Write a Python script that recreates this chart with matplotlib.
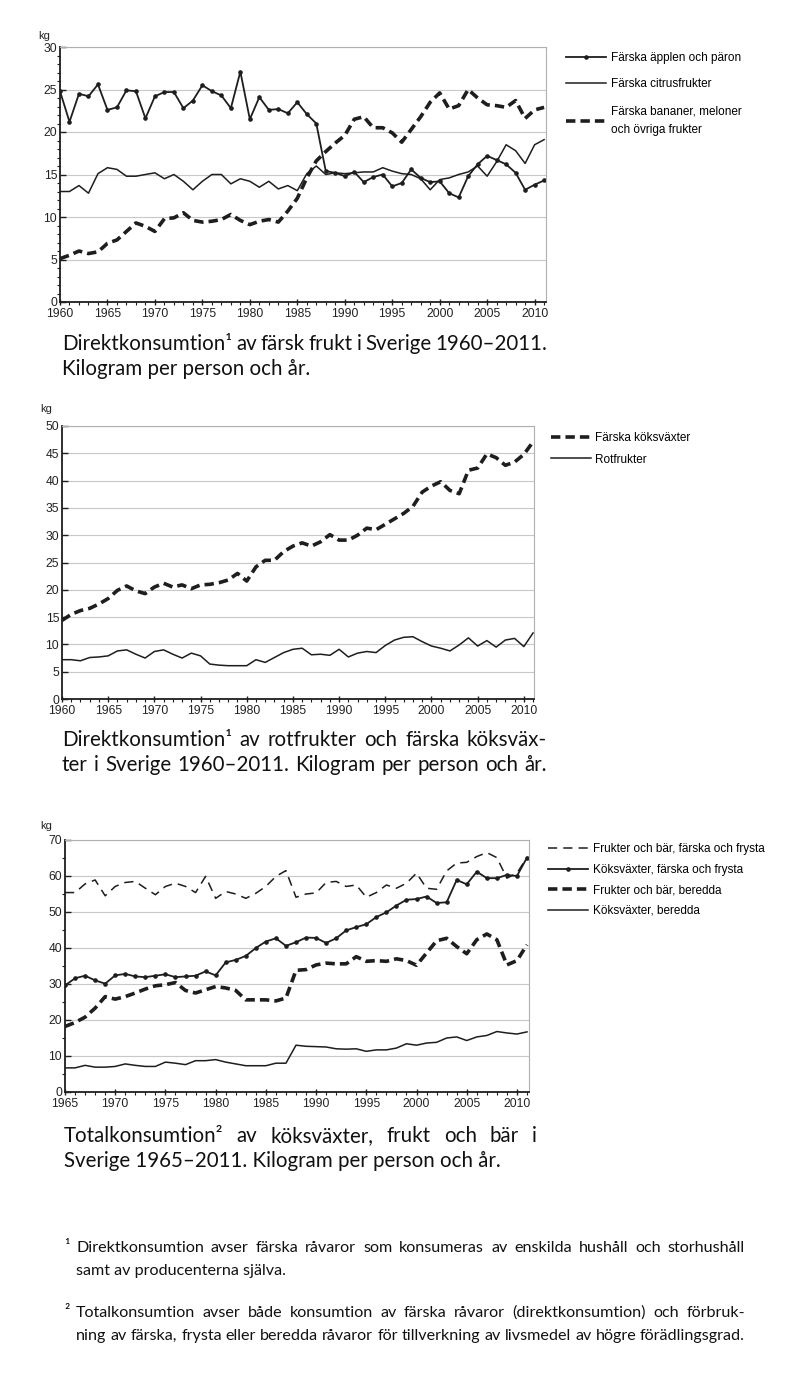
import numpy as np
import matplotlib
matplotlib.use("Agg")
import matplotlib.pyplot as plt
from matplotlib.ticker import MultipleLocator

# years
years_a = np.arange(1960, 2012)
years_b = np.arange(1965, 2012)

# chart 1: direktkonsumtion frukt
apples = [24.8, 21.2, 24.5, 24.2, 25.6, 22.6, 22.9, 24.9, 24.8, 21.6,
          24.2, 24.7, 24.7, 22.8, 23.7, 25.5, 24.8, 24.3, 22.8, 27.1,
          21.5, 24.1, 22.6, 22.7, 22.2, 23.5, 22.1, 21.0, 15.4, 15.2,
          14.8, 15.3, 14.1, 14.7, 15.0, 13.6, 14.0, 15.6, 14.6, 14.1,
          14.2, 12.8, 12.3, 14.8, 16.2, 17.2, 16.7, 16.2, 15.2, 13.2,
          13.8, 14.3]
citrus = [13.0, 13.0, 13.7, 12.8, 15.1, 15.8, 15.6, 14.8, 14.8, 15.0,
          15.2, 14.5, 15.0, 14.2, 13.2, 14.2, 15.0, 15.0, 13.9, 14.5,
          14.2, 13.5, 14.2, 13.3, 13.7, 13.1, 15.1, 16.0, 15.0, 15.2,
          15.1, 15.2, 15.3, 15.3, 15.8, 15.4, 15.1, 15.0, 14.5, 13.2,
          14.4, 14.6, 15.0, 15.3, 16.0, 14.8, 16.5, 18.5, 17.8, 16.3,
          18.5, 19.1]
bananas = [5.1, 5.5, 6.0, 5.7, 5.9, 6.9, 7.3, 8.3, 9.3, 8.9,
           8.3, 9.8, 9.9, 10.5, 9.6, 9.4, 9.5, 9.7, 10.3, 9.6,
           9.1, 9.5, 9.7, 9.4, 10.7, 12.2, 14.6, 16.6, 17.7, 18.7,
           19.6, 21.5, 21.8, 20.5, 20.5, 19.9, 18.8, 20.3, 21.8, 23.5,
           24.6, 22.7, 23.1, 25.0, 24.0, 23.2, 23.1, 22.9, 23.7, 21.6,
           22.6, 22.9]

# chart 2: rotfrukter och köksväxter
veg_fresh = [14.4, 15.5, 16.2, 16.6, 17.4, 18.4, 19.9, 20.7, 19.8, 19.3,
             20.5, 21.2, 20.5, 20.9, 20.2, 20.9, 21.0, 21.3, 21.8, 23.0,
             21.6, 24.2, 25.4, 25.4, 27.0, 28.0, 28.6, 28.0, 28.8, 30.1,
             29.1, 29.1, 30.0, 31.3, 31.0, 32.0, 33.0, 34.0, 35.3, 37.9,
             39.0, 39.8, 38.2, 37.6, 41.9, 42.3, 44.9, 44.2, 42.8, 43.4,
             44.8, 47.1]
roots = [7.2, 7.2, 7.0, 7.6, 7.7, 7.9, 8.8, 9.0, 8.2, 7.5,
         8.7, 9.0, 8.2, 7.5, 8.4, 7.9, 6.4, 6.2, 6.1, 6.1,
         6.1, 7.2, 6.7, 7.6, 8.5, 9.1, 9.3, 8.1, 8.2, 8.0,
         9.1, 7.7, 8.4, 8.7, 8.5, 9.8, 10.8, 11.3, 11.4, 10.5,
         9.7, 9.3, 8.8, 9.9, 11.2, 9.7, 10.7, 9.5, 10.8, 11.1,
         9.6, 12.1]

# chart 3: totalkonsumtion
fruit_fresh = [55.4, 55.4, 57.8, 58.9, 54.5,
               57.1, 58.2, 58.5, 56.6, 54.8, 57.1, 58.0, 57.1, 55.4, 59.9,
               53.8, 55.7, 55.0, 53.8, 55.2, 57.1, 59.9, 61.5, 54.1, 55.0,
               55.3, 58.2, 58.5, 57.1, 57.5, 54.1, 55.4, 57.5, 56.6, 58.0,
               60.8, 56.6, 56.3, 61.4, 63.6, 63.8, 65.4, 66.5, 65.1, 59.4,
               60.8, 65.2]
veg_total = [29.6, 31.6, 32.3, 31.0, 30.1,
             32.4, 32.8, 32.1, 31.9, 32.3, 32.7, 31.9, 32.1, 32.3, 33.5,
             32.4, 36.0, 36.7, 37.8, 40.0, 41.8, 42.7, 40.6, 41.6, 42.9,
             42.8, 41.4, 42.7, 44.9, 45.8, 46.6, 48.6, 49.9, 51.8, 53.4,
             53.6, 54.3, 52.5, 52.7, 58.9, 57.7, 61.2, 59.4, 59.4, 60.3,
             60.0, 65.1]
fruit_proc = [18.2, 19.3, 20.8, 23.3, 26.5,
              25.8, 26.5, 27.5, 28.6, 29.5, 29.8, 30.4, 28.2, 27.5, 28.4,
              29.3, 28.9, 28.2, 25.6, 25.6, 25.6, 25.3, 26.1, 33.8, 34.0,
              35.3, 35.8, 35.6, 35.6, 37.6, 36.3, 36.5, 36.3, 37.0, 36.5,
              35.2, 38.6, 42.0, 42.7, 40.4, 38.4, 42.3, 43.9, 42.3, 35.3,
              36.5, 40.9]
veg_proc = [6.7, 6.7, 7.4, 6.9, 6.9,
            7.1, 7.8, 7.4, 7.1, 7.1, 8.3, 8.0, 7.6, 8.7, 8.7,
            9.0, 8.3, 7.8, 7.3, 7.3, 7.3, 8.0, 8.0, 13.0, 12.7,
            12.6, 12.5, 12.0, 11.9, 12.0, 11.3, 11.7, 11.7, 12.2, 13.4,
            13.0, 13.6, 13.8, 15.0, 15.3, 14.3, 15.3, 15.7, 16.8, 16.4,
            16.1, 16.7]

INK = "#1e1e1e"
TEXT_FONT = ["Lato", "DejaVu Sans"]

plt.rcParams['font.family'] = ["Liberation Sans", "DejaVu Sans"]

fig = plt.figure(figsize=(8, 14), dpi=100)
fig.patch.set_facecolor("white")
renderer = fig.canvas.get_renderer()


def px_axes(x0, y0, x1, y1):
    # axes from pixel box (top-left origin)
    return fig.add_axes([x0 / 800, 1 - y1 / 1400, (x1 - x0) / 800, (y1 - y0) / 1400])


def style_axes(ax, x0, x1, ymax, ystep, xticks, yminor):
    ax.set_xlim(x0, x1)
    ax.set_ylim(0, ymax)
    ax.set_yticks(np.arange(0, ymax + 1, ystep))
    ax.set_xticks(xticks)
    ax.xaxis.set_minor_locator(MultipleLocator(1))
    ax.yaxis.set_minor_locator(MultipleLocator(yminor))
    ax.grid(axis="y", color="#c8c8c8", lw=0.8)
    ax.set_axisbelow(True)
    for s in ["top", "right"]:
        ax.spines[s].set_color("#b0b0b0")
        ax.spines[s].set_linewidth(0.8)
    for s in ["left", "bottom"]:
        ax.spines[s].set_color(INK)
        ax.spines[s].set_linewidth(1.3)
    ax.tick_params(which="major", length=4, width=1, color=INK, labelsize=8.7, pad=2)
    ax.tick_params(which="minor", length=2, width=0.8, color=INK)
    ax.tick_params(axis="x", direction="inout")
    ax.tick_params(axis="y", direction="in")
    for lab in ax.get_xticklabels() + ax.get_yticklabels():
        lab.set_color("#222222")


thick_dash = dict(color=INK, lw=2.6, dashes=(2.6, 1.4))
legend_kw = dict(frameon=False, fontsize=8.5, handlelength=3.4, handletextpad=0.4,
                 loc="upper left", borderaxespad=0)

# chart 1
ax1 = px_axes(60, 47, 546, 302)
ax1.plot(years_a, apples, color=INK, lw=1.3, marker="o", ms=2.3, label="Färska äpplen och päron")
ax1.plot(years_a, citrus, color=INK, lw=1.1, label="Färska citrusfrukter")
ax1.plot(years_a, bananas, label="Färska bananer, meloner\noch övriga frukter", **thick_dash)
style_axes(ax1, 1960, 2011.2, 30, 5, np.arange(1960, 2011, 5), 1)
leg1 = ax1.legend(bbox_to_anchor=(1.032, 1.0), labelspacing=1.25, **legend_kw)
for t in leg1.get_texts():
    t.set_linespacing(1.7)

# chart 2
ax2 = px_axes(62, 426, 534, 699)
ax2.plot(years_a, veg_fresh, label="Färska köksväxter", **thick_dash)
ax2.plot(years_a, roots, color=INK, lw=1.1, label="Rotfrukter")
style_axes(ax2, 1960, 2011.1, 50, 5, np.arange(1960, 2011, 5), 5)
ax2.legend(bbox_to_anchor=(1.025, 0.995), labelspacing=0.8, **legend_kw)

# chart 3
ax3 = px_axes(65, 840, 529, 1092)
ax3.plot(years_b, fruit_fresh, color=INK, lw=1.1, dashes=(6, 4), label="Frukter och bär, färska och frysta")
ax3.plot(years_b, veg_total, color=INK, lw=1.3, marker="o", ms=2.3, label="Köksväxter, färska och frysta")
ax3.plot(years_b, fruit_proc, label="Frukter och bär, beredda", **thick_dash)
ax3.plot(years_b, veg_proc, color=INK, lw=1.1, label="Köksväxter, beredda")
style_axes(ax3, 1965, 2011.2, 70, 10, np.arange(1965, 2011, 5), 5)
ax3.legend(bbox_to_anchor=(1.03, 1.005), labelspacing=0.72, **legend_kw)

# kg labels
for xp, yp in [(38, 36), (40, 409), (40, 826)]:
    fig.text(xp / 800, 1 - yp / 1400, "kg", fontsize=8, color="#222222", ha="left", va="center")


def caption(xp, yp, s, size, right=None):
    # text on a baseline at yp, left aligned or justified between xp and right (pixels)
    y = 1 - yp / 1400
    if right is None:
        fig.text(xp / 800, y, s, fontsize=size, family=TEXT_FONT,
                 color="#111111", ha="left", va="baseline")
        return
    words = s.split(" ")
    texts = [fig.text(0, y, w, fontsize=size, family=TEXT_FONT, color="#111111",
                      ha="left", va="baseline") for w in words]
    widths = [t.get_window_extent(renderer).width for t in texts]
    gap = (right - xp - sum(widths)) / max(len(words) - 1, 1)
    x = xp
    for t, w in zip(texts, widths):
        t.set_x(x / 800)
        x += w + gap


CAP = 14.8
caption(62, 350, "Direktkonsumtion\u00b9 av färsk frukt i Sverige 1960\u20132011.", CAP, 547)
caption(62, 375, "Kilogram per person och år.", CAP)
caption(62, 746, "Direktkonsumtion\u00b9 av rotfrukter och färska köksväx-", CAP, 547)
caption(62, 771, "ter i Sverige 1960\u20132011. Kilogram per person och år.", CAP, 547)
caption(64, 1142, "Totalkonsumtion\u00b2 av köksväxter, frukt och bär i", CAP, 537)
caption(64, 1167, "Sverige 1965\u20132011. Kilogram per person och år.", CAP)

FN = 11.6
caption(64, 1252, "\u00b9", FN)
caption(76, 1252, "Direktkonsumtion avser färska råvaror som konsumeras av enskilda hushåll och storhushåll", FN, 745)
caption(76, 1275, "samt av producenterna själva.", FN)
caption(64, 1317, "\u00b2", FN)
caption(76, 1317, "Totalkonsumtion avser både konsumtion av färska råvaror (direktkonsumtion) och förbruk-", FN, 745)
caption(76, 1340, "ning av färska, frysta eller beredda råvaror för tillverkning av livsmedel av högre förädlingsgrad.", FN, 745)

fig.savefig("out.png", dpi=100, facecolor="white")
